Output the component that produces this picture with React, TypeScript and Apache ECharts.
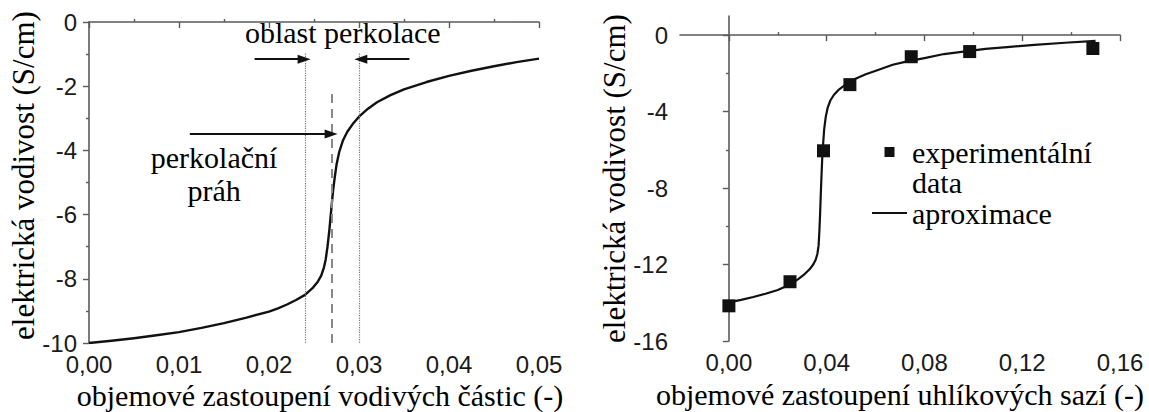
import React, { useEffect, useRef } from "react";
import * as echarts from "echarts";

// Left panel: percolation curve
const leftX = [0, 0.0025, 0.005, 0.0075, 0.01, 0.0125, 0.015, 0.0175, 0.02, 0.021, 0.022, 0.023, 0.024, 0.0248, 0.0254, 0.0258, 0.0261, 0.0263, 0.0265, 0.0267, 0.0269, 0.0271, 0.0273, 0.0275, 0.0278, 0.0282, 0.0287, 0.0293, 0.03, 0.031, 0.032, 0.0335, 0.035, 0.0375, 0.04, 0.0425, 0.045, 0.0475, 0.05];
const leftY = [-10, -9.93, -9.85, -9.76, -9.66, -9.53, -9.38, -9.21, -9.02, -8.92, -8.8, -8.66, -8.5, -8.3, -8.1, -7.9, -7.65, -7.4, -7.0, -6.5, -5.9, -5.3, -4.85, -4.45, -4.05, -3.7, -3.42, -3.18, -2.95, -2.7, -2.5, -2.28, -2.1, -1.87, -1.68, -1.52, -1.38, -1.25, -1.14];

// Left panel annotation values
const percRegion = [0.024, 0.03];
const percThreshold = 0.027;

// Right panel: experimental data
const expX = [0, 0.025, 0.0387, 0.0495, 0.0746, 0.0985, 0.1489];
const expY = [-14.16, -12.9, -6.05, -2.59, -1.13, -0.86, -0.7];

// Right panel: approximation curve
const fitX = [0, 0.005, 0.01, 0.015, 0.02, 0.025, 0.0285, 0.031, 0.033, 0.0345, 0.0355, 0.0362, 0.0367, 0.037, 0.0373, 0.0376, 0.0379, 0.0382, 0.0386, 0.039, 0.0396, 0.0404, 0.0415, 0.043, 0.045, 0.048, 0.052, 0.056, 0.061, 0.067, 0.073, 0.08, 0.088, 0.096, 0.105, 0.115, 0.125, 0.1375, 0.15];
const fitY = [-13.98, -13.85, -13.7, -13.53, -13.33, -13.05, -12.75, -12.5, -12.25, -12.0, -11.75, -11.45, -11.0, -10.3, -9.4, -8.3, -7.3, -6.4, -5.6, -4.9, -4.3, -3.8, -3.42, -3.12, -2.85, -2.56, -2.27, -2.05, -1.82, -1.55, -1.37, -1.2, -0.99, -0.86, -0.72, -0.61, -0.51, -0.4, -0.3];

// Tick values
const leftXTicks = { min: 0, max: 0.05, interval: 0.01 };
const leftYTicks = { min: -10, max: 0, interval: 2 };
const rightXMajor = [0, 0.04, 0.08, 0.12, 0.16];
const rightXMinor = [0.02, 0.06, 0.1, 0.14];
const rightYMajor = [-16, -12, -8, -4, 0];
const rightYMinor = [-14, -10, -6, -2];
const leftXMinor = [0.005, 0.015, 0.025, 0.035, 0.045];
const leftYMinor = [-9, -7, -5, -3, -1];

const SERIF = "Liberation Serif";
const SANS = "Liberation Sans";
const AXIS_COLOR = "#5a5a5a";
const INK = "#111111";

const fmtX = (v: number) => v.toFixed(2).replace(".", ",");

export default function App() {
  const ref = useRef<HTMLDivElement>(null);
  useEffect(() => {
    document.body.style.margin = "0";
    if (!ref.current) return;
    const chart = echarts.init(ref.current, null, { renderer: "svg" });

    const labelStyle = { fontFamily: SANS, fontSize: 24, color: "#1a1a1a" };
    const nameStyle = { fontFamily: SERIF, fontSize: 30, color: "#000" };
    const axisLine = { show: true, lineStyle: { color: AXIS_COLOR, width: 1.6 } };

    const minorAxis = (gridIndex: number, min: number, max: number, values: number[], pos: string) => ({
      type: "value",
      gridIndex,
      min,
      max,
      position: pos,
      axisLine: { show: false },
      axisLabel: { show: false, customValues: values },
      axisTick: { show: true, inside: pos === "bottom", length: 3, customValues: values, lineStyle: { color: AXIS_COLOR, width: 1.4 } },
      splitLine: { show: false },
    });

    const option = {
      animation: false,
      textStyle: { fontFamily: SERIF },
      grid: [
        { left: 89, top: 22, width: 450, height: 321, outerBoundsMode: "none" },
        { left: 680, top: 16, width: 440, height: 325, outerBoundsMode: "none" },
      ],
      xAxis: [
        {
          type: "value",
          gridIndex: 0,
          position: "bottom",
          ...leftXTicks,
          axisLine,
          axisTick: { show: true, length: 6, lineStyle: { color: AXIS_COLOR, width: 1.4 } },
          axisLabel: { ...labelStyle, margin: 9, formatter: fmtX },
          splitLine: { show: false },
          name: "objemové zastoupení vodivých částic (-)",
          nameLocation: "middle",
          nameGap: 37,
          nameMoveOverlap: false,
          nameTextStyle: { ...nameStyle, padding: [0, 0, 0, 12] },
        },
        minorAxis(0, leftXTicks.min, leftXTicks.max, leftXMinor, "bottom"),
        {
          type: "value",
          gridIndex: 1,
          position: "bottom",
          min: -0.02,
          max: 0.16,
          axisLine,
          axisTick: { show: true, length: 6, customValues: rightXMajor, lineStyle: { color: AXIS_COLOR, width: 1.4 } },
          axisLabel: { ...labelStyle, margin: 9, formatter: fmtX, customValues: rightXMajor },
          splitLine: { show: false },
          name: "objemové zastoupení uhlíkových sazí (-)",
          nameLocation: "middle",
          nameGap: 38,
          nameMoveOverlap: false,
          nameTextStyle: { ...nameStyle },
        },
        minorAxis(1, -0.02, 0.16, rightXMinor, "bottom"),
      ],
      yAxis: [
        {
          type: "value",
          gridIndex: 0,
          position: "left",
          ...leftYTicks,
          axisLine,
          axisTick: { show: true, length: 6, lineStyle: { color: AXIS_COLOR, width: 1.4 } },
          axisLabel: { ...labelStyle, margin: 12 },
          splitLine: { show: false },
          name: "elektrická vodivost (S/cm)",
          nameLocation: "middle",
          nameGap: 50,
          nameMoveOverlap: false,
          nameTextStyle: { ...nameStyle, fontSize: 31, padding: [0, 0, 0, 14] },
        },
        minorAxis(0, leftYTicks.min, leftYTicks.max, leftYMinor, "left"),
        {
          type: "value",
          gridIndex: 1,
          position: "left",
          min: -16,
          max: 1,
          axisLine,
          axisTick: { show: true, length: 6, customValues: rightYMajor, lineStyle: { color: AXIS_COLOR, width: 1.4 } },
          axisLabel: { ...labelStyle, margin: 12, customValues: rightYMajor },
          splitLine: { show: false },
          name: "elektrická vodivost (S/cm)",
          nameLocation: "middle",
          nameGap: 50,
          nameMoveOverlap: false,
          nameTextStyle: { ...nameStyle, fontSize: 31 },
        },
        minorAxis(1, -16, 1, rightYMinor, "left"),
      ],
      legend: {
        orient: "vertical",
        left: 872,
        top: 107,
        padding: 0,
        itemGap: 1,
        itemWidth: 35,
        itemHeight: 10,
        textStyle: { fontFamily: SERIF, fontSize: 30, color: "#000", lineHeight: 30 },
        formatter: (name: string) => (name.indexOf("\n") >= 0 ? "\n" + name : name),
        data: [
          { name: "experimentální\ndata", icon: "path://M0,0H10V10H0Z" },
          { name: "aproximace", icon: "path://M0,0H35V2.2H0Z" },
        ],
      },
      series: [
        {
          type: "line",
          name: "vodivost",
          xAxisIndex: 0,
          yAxisIndex: 0,
          data: leftX.map((x, i) => [x, leftY[i]]),
          showSymbol: false,
          symbol: "none",
          smooth: false,
          lineStyle: { color: INK, width: 2.4, join: "round" },
          silent: true,
          markLine: {
            silent: true,
            animation: false,
            label: { show: false },
            symbol: ["none", "none"],
            data: [
              [
                { coord: [percRegion[0], -0.98], lineStyle: { type: "dotted", color: "#777", width: 1.2 } },
                { coord: [percRegion[0], -10] },
              ],
              [
                { coord: [percRegion[1], -0.98], lineStyle: { type: "dotted", color: "#777", width: 1.2 } },
                { coord: [percRegion[1], -10] },
              ],
              [
                { coord: [percThreshold, -2.24], lineStyle: { type: [9, 6], color: "#888", width: 2 } },
                { coord: [percThreshold, -10] },
              ],
              [
                { coord: [0.0184, -1.16], symbol: "none", lineStyle: { type: "solid", color: INK, width: 2 } },
                { coord: [percRegion[0] - 0.0001, -1.16], symbol: "triangle", symbolSize: [9, 13] },
              ],
              [
                { coord: [0.0356, -1.16], symbol: "none", lineStyle: { type: "solid", color: INK, width: 2 } },
                { coord: [percRegion[1] + 0.0002, -1.16], symbol: "triangle", symbolSize: [9, 13] },
              ],
              [
                { coord: [0.0112, -3.49], symbol: "none", lineStyle: { type: "solid", color: INK, width: 2 } },
                { coord: [percThreshold - 0.0001, -3.49], symbol: "triangle", symbolSize: [9, 13] },
              ],
            ],
          },
          markPoint: {
            silent: true,
            animation: false,
            symbol: "circle",
            symbolSize: 0,
            label: {
              show: true,
              position: "inside",
              fontFamily: SERIF,
              fontSize: 30,
              color: "#000",
              lineHeight: 33,
              formatter: (p: any) => p.name,
            },
            data: [
              { name: "oblast perkolace", coord: [0.0282, -0.34] },
              { name: "perkolační\npráh", coord: [0.0139, -4.72] },
            ],
          },
        },
        {
          type: "scatter",
          name: "experimentální\ndata",
          xAxisIndex: 2,
          yAxisIndex: 2,
          data: expX.map((x, i) => [x, expY[i]]),
          symbol: "rect",
          symbolSize: 13,
          itemStyle: { color: INK, opacity: 1 },
          z: 3,
        },
        {
          type: "line",
          name: "aproximace",
          xAxisIndex: 2,
          yAxisIndex: 2,
          data: fitX.map((x, i) => [x, fitY[i]]),
          showSymbol: false,
          symbol: "none",
          smooth: false,
          lineStyle: { color: INK, width: 2.2, join: "round" },
          itemStyle: { color: INK },
          z: 2,
        },
      ],
    };

    chart.setOption(option as any);
    return () => chart.dispose();
  }, []);

  return <div ref={ref} style={{ width: 1149, height: 412 }} />;
}
